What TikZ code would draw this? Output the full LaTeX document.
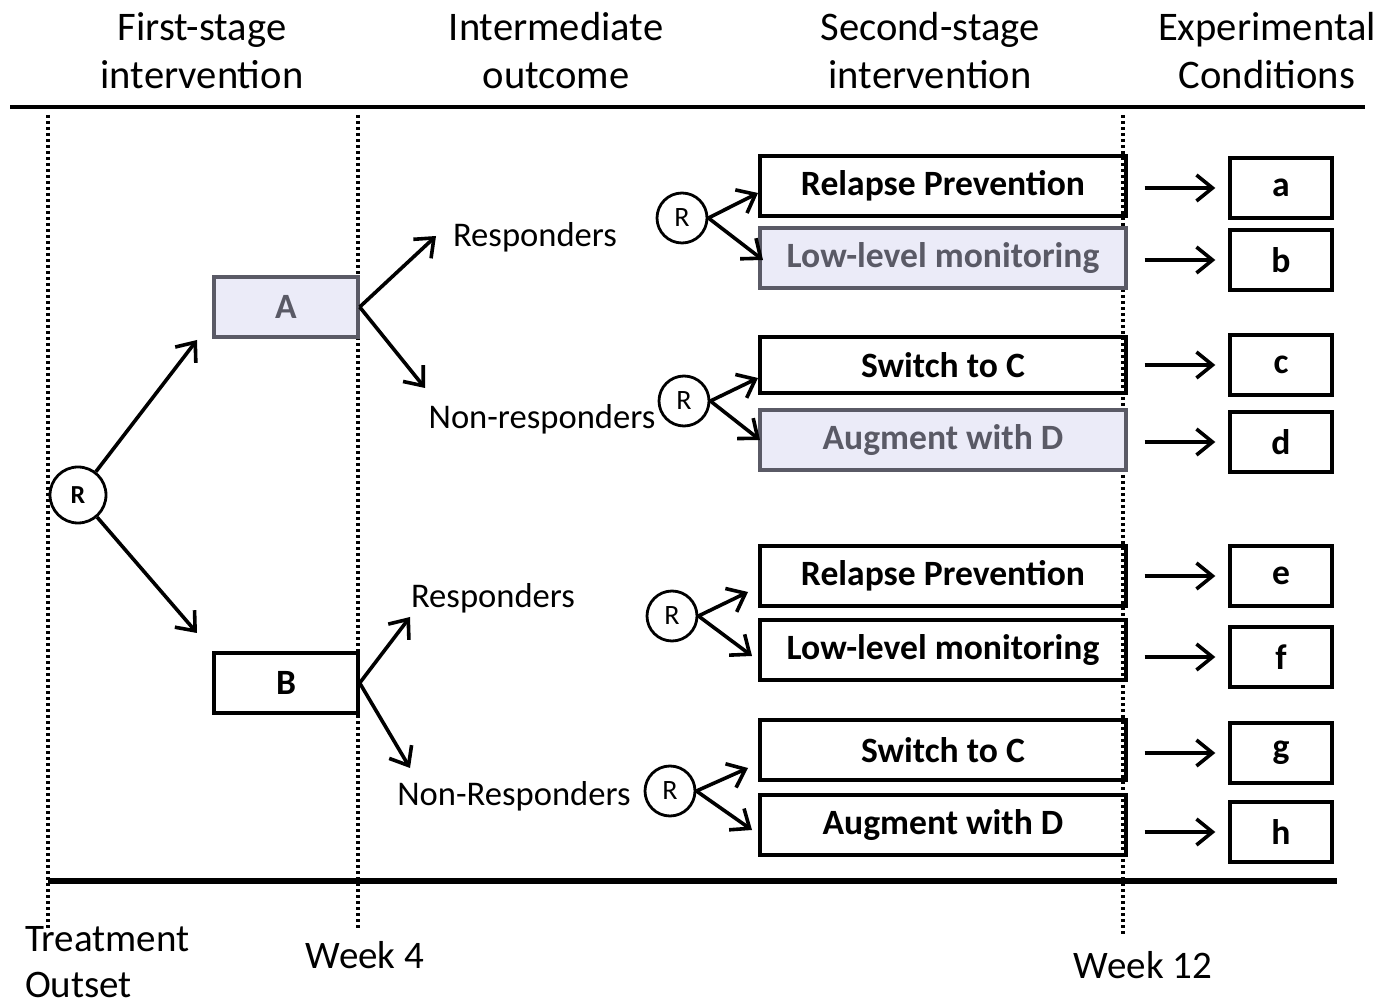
\documentclass[tikz,border=0pt]{standalone}
\usepackage{fontspec}
\setmainfont{Carlito}
\usetikzlibrary{arrows.meta}

\definecolor{lav}{HTML}{EBEBF8}
\definecolor{lavtext}{HTML}{5A5A66}

\begin{document}
\begin{tikzpicture}[x=0.5pt,y=-0.5pt,
  head/.style={align=center,font=\fontsize{20.3}{24}\selectfont},
  lbl/.style={font=\fontsize{17.3}{22}\selectfont},
  box/.style={draw,line width=1.7pt,minimum width=183pt,minimum height=30pt,
    font=\bfseries\fontsize{17.8}{20}\selectfont},
  shade/.style={fill=lav,draw=lavtext,text=lavtext},
  cond/.style={draw,line width=1.7pt,minimum width=51pt,minimum height=30pt,
    font=\bfseries\fontsize{17.8}{20}\selectfont},
  rnd/.style={draw,circle,line width=1.4pt,minimum size=25pt,inner sep=0pt,
    font=\fontsize{14}{14}\selectfont},
  arr/.style={line width=1.8pt,-{Straight Barb[length=8pt,width=13pt,line width=1.8pt]}},
  tl/.style={line width=1.6pt,dash pattern=on 1.5pt off 1.5pt}]
  \useasboundingbox (0,0) rectangle (1381,1004);

  % headers
  \node[head] (h1) at (202,51) {First-stage\\intervention};
  \node[head] (h2) at (556,51) {Intermediate\\outcome};
  \node[head] (h3) at (930,51) {Second-stage\\intervention};
  \node[head] (h4) at (1267,51) {Experimental\\Conditions};
  \draw[line width=1.6pt] (10,107) -- (1365,107);

  % time lines
  \draw[tl] (48,115) -- (48,930);
  \draw[tl] (358,115) -- (358,930);
  \draw[tl] (1123,115) -- (1123,935);
  \draw[line width=2.6pt] (48,881) -- (1337,881);
  \node[head,align=left,anchor=west,font=\fontsize{19.5}{23}\selectfont] (t0) at (18,962) {Treatment\\Outset};
  \node[head,font=\fontsize{19.5}{23}\selectfont] (t4) at (365,955) {Week 4};
  \node[head,font=\fontsize{19.5}{23}\selectfont] (t12) at (1143,965) {Week 12};

  % first stage
  \node[rnd,minimum size=28pt,font=\bfseries\fontsize{13}{13}\selectfont] (r0) at (78,495) {R};
  \node[box,shade,minimum width=72pt] (A) at (286,307) {A};
  \node[box,minimum width=72pt] (B) at (286,683) {B};
  \coordinate (pA) at (197,340);
  \coordinate (pB) at (197,633);
  \draw[arr] (r0) -- (pA);
  \draw[arr] (r0) -- (pB);

  % intermediate outcome
  \node[lbl] (resA) at (535,237) {Responders};
  \node[lbl] (nonA) at (542,419) {Non-responders};
  \node[lbl] (resB) at (493,598) {Responders};
  \node[lbl] (nonB) at (514,796) {Non-Responders};
  \coordinate (qA1) at (436,236);
  \coordinate (qA2) at (425,388);
  \coordinate (qB1) at (410,617);
  \coordinate (qB2) at (410,768);
  \draw[arr] (A.east) -- (qA1);
  \draw[arr] (A.east) -- (qA2);
  \draw[arr] (B.east) -- (qB1);
  \draw[arr] (B.east) -- (qB2);

  % second stage
  \node[rnd] (r1) at (682,218) {R};
  \node[rnd] (r2) at (684,401) {R};
  \node[rnd] (r3) at (672,616) {R};
  \node[rnd] (r4) at (670,791) {R};

  \node[box] (s1) at (943,186) {Relapse Prevention};
  \node[box,shade] (s2) at (943,258) {Low-level monitoring};
  \node[box,minimum height=28pt] (s3) at (943,365) {Switch to C};
  \node[box,shade] (s4) at (943,440) {Augment with D};
  \node[box] (s5) at (943,576) {Relapse Prevention};
  \node[box] (s6) at (943,650) {Low-level monitoring};
  \node[box] (s7) at (943,750) {Switch to C};
  \node[box] (s8) at (943,825) {Augment with D};

  \coordinate (e1) at (758,193);
  \coordinate (e2) at (763,260);
  \coordinate (e3) at (758,378);
  \coordinate (e4) at (760,440);
  \coordinate (e5) at (748,592);
  \coordinate (e6) at (752,656);
  \coordinate (e7) at (748,768);
  \coordinate (e8) at (752,830);
  \draw[arr] (r1.east) -- (e1);
  \draw[arr] (r1.east) -- (e2);
  \draw[arr] (r2.east) -- (e3);
  \draw[arr] (r2.east) -- (e4);
  \draw[arr] (r3.east) -- (e5);
  \draw[arr] (r3.east) -- (e6);
  \draw[arr] (r4.east) -- (e7);
  \draw[arr] (r4.east) -- (e8);

  % experimental conditions
  \node[cond] (ca) at (1281,188) {a};
  \node[cond] (cb) at (1281,260) {b};
  \node[cond] (cc) at (1281,365) {c};
  \node[cond] (cd) at (1281,442) {d};
  \node[cond] (ce) at (1281,576) {e};
  \node[cond] (cf) at (1281,657) {f};
  \node[cond] (cg) at (1281,753) {g};
  \node[cond] (ch) at (1281,832) {h};
  \foreach \s/\c in {s1/ca,s2/cb,s3/cc,s4/cd,s5/ce,s6/cf,s7/cg,s8/ch}
    \draw[arr] ([xshift=8.5pt]\s.east |- \c.west) -- ([xshift=-6.5pt]\c.west);
\end{tikzpicture}
\end{document}
